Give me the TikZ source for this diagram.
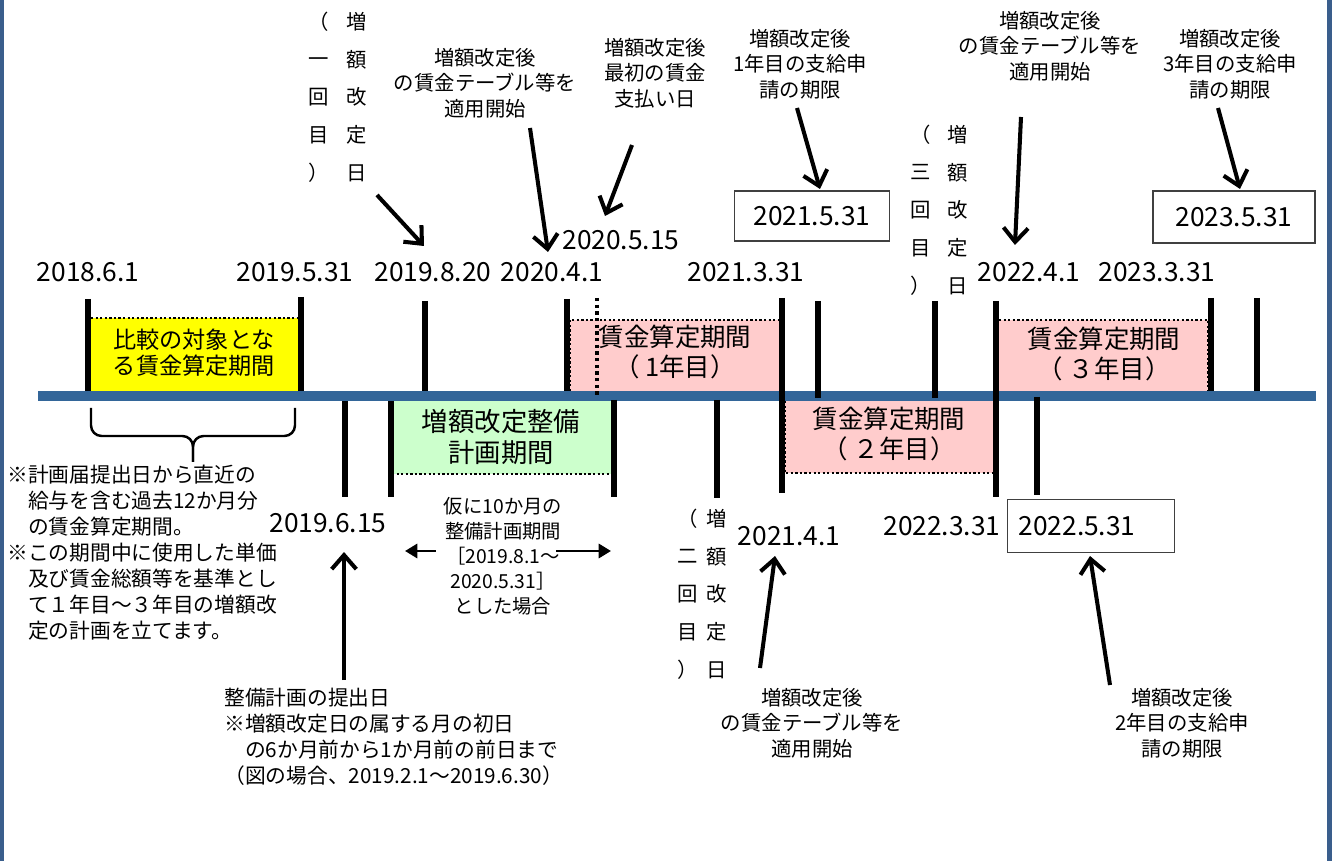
\documentclass[tikz,border=0pt]{standalone}
\usepackage{fontspec}
\setmainfont{Noto Sans CJK JP}
\usetikzlibrary{arrows.meta}

\definecolor{tlblue}{HTML}{336699}
\definecolor{frblue}{HTML}{3A5E8C}
\definecolor{ylw}{HTML}{FFFF00}
\definecolor{pnk}{HTML}{FFCCCC}
\definecolor{grn}{HTML}{CCFFCC}
\definecolor{boxgray}{HTML}{404040}

\tikzset{
  lbl/.style={align=center, inner sep=0pt, font=\fontsize{11.6}{14.5}\selectfont},
  note/.style={align=left, inner sep=0pt, anchor=west, font=\fontsize{11.8}{14.8}\selectfont},
  vcol/.style={align=center, inner sep=0pt, font=\fontsize{11.6}{21.5}\selectfont},
  date/.style={inner sep=0pt, font=\fontsize{15}{18}\selectfont},
  prd/.style={align=center, inner sep=0pt, font=\fontsize{14.5}{17}\selectfont},
  dbox/.style={draw=boxgray, line width=0.8pt, inner sep=0pt, font=\fontsize{15}{18}\selectfont},
  arr/.style={-{Straight Barb[length=8pt,width=14pt]}, line width=2.3pt},
  sarr/.style={-{Triangle[length=7pt,width=8pt]}, line width=1.7pt},
  tick/.style={line width=3.4pt},
  dotl/.style={line width=1.3pt, dash pattern=on 1.3pt off 1.3pt},
}

\begin{document}
\begin{tikzpicture}[x=0.02cm, y=-0.02cm]
		\useasboundingbox (0,0) rectangle (1336,861);
		\fill[frblue] (0,0) rectangle (4,861);
		\fill[frblue] (1327,0) rectangle (1332,861);

		% periods
		\fill[ylw] (91,318) rectangle (298,391);
		\fill[pnk] (570,320) rectangle (779,391);
		\fill[grn] (392,400) rectangle (612,474);
		\fill[pnk] (785,401) rectangle (993,473);
		\fill[pnk] (999,320) rectangle (1208,391);
		\draw[dotl] (91,318) -- (298,318);
		\draw[dotl] (570,391) -- (570,320) -- (779,320);
		\draw[dotl] (392,474) -- (612,474) -- (612,400);
		\draw[dotl] (785,401) -- (785,473) -- (993,473);
		\draw[dotl] (999,320) -- (1208,320) -- (1208,391);

		\path (194,353)  node[prd, font=\fontsize{13.2}{14.8}\selectfont] (pcmp) {比較の対象とな\\る賃金算定期間}
		      (675,352)  node[prd] (py1) {賃金算定期間\\（ 1年目）}
		      (501,437)  node[prd, font=\fontsize{15}{17.6}\selectfont] (pgrn) {増額改定整備\\計画期間}
		      (889,434)  node[prd] (py2) {賃金算定期間\\（ ２年目）}
		      (1104,354) node[prd] (py3) {賃金算定期間\\（ ３年目）};

		% time line
		\draw[tlblue, line width=5.7pt] (38,396) -- (1316,396);
		\foreach \x/\a/\b in {88/299/391, 301/297/391, 425/301/391, 567/299/391,
		                      782/298/493, 818/301/398, 935/301/398, 996/301/497,
		                      1211/298/391, 1257/298/391, 345/401/497, 391/401/497,
		                      614/400/497, 717/400/498, 1037/397/495}
		  \draw[tick] (\x,\a) -- (\x,\b);
		\draw[line width=1.9pt, dash pattern=on 1.9pt off 1.9pt] (597,298) -- (597,396);

		% dates
		\path (88,272)   node[date] (d1806) {2018.6.1}
		      (295,272)  node[date] (d1905) {2019.5.31}
		      (433,272)  node[date] (d1908) {2019.8.20}
		      (552,272)  node[date] (d2004) {2020.4.1}
		      (621,240)  node[date] (d2005) {2020.5.15}
		      (746,272)  node[date] (d2103) {2021.3.31}
		      (1029,272) node[date] (d2204) {2022.4.1}
		      (1157,272) node[date] (d2303) {2023.3.31}
		      (328,523)  node[date] (d1906) {2019.6.15}
		      (789,536)  node[date] (d2104) {2021.4.1}
		      (942,526)  node[date] (d2203) {2022.3.31};
		\path (812,216)  node[dbox, minimum width=3.1cm, minimum height=1cm] (b2105) {2021.5.31}
		      (1234,217) node[dbox, minimum width=3.24cm, minimum height=1.04cm] (b2305) {2023.5.31}
		      (1091,526) node[dbox, minimum width=3.34cm, minimum height=1.06cm, text width=2.9cm, align=left] (b2205) {2022.5.31};

		% labels
		\path (485,83)   node[lbl] (upA) {増額改定後\\の賃金テーブル等を\\適用開始}
		      (655,73)   node[lbl] (upB) {増額改定後\\最初の賃金\\支払い日}
		      (800,64)   node[lbl] (upC) {増額改定後\\1年目の支給申\\請の期限}
		      (1050,46)  node[lbl] (upD) {増額改定後\\の賃金テーブル等を\\適用開始}
		      (1230,64)  node[lbl] (upE) {増額改定後\\3年目の支給申\\請の期限}
		      (812,723)  node[lbl] (loA) {増額改定後\\の賃金テーブル等を\\適用開始}
		      (1182,723) node[lbl] (loB) {増額改定後\\2年目の支給申\\請の期限}
		      (503,556)  node[lbl, font=\fontsize{11}{14.3}\selectfont] (midT) {仮に10か月の\\整備計画期間\\［2019.8.1～\\2020.5.31］\\とした場合};
		\path (7,553)    node[note] (noteL) {※計画届提出日から直近の\\　給与を含む過去12か月分\\　の賃金算定期間。\\※この期間中に使用した単価\\　及び賃金総額等を基準とし\\　て１年目～３年目の増額改\\　定の計画を立てます。}
		      (224,737)  node[note] (noteB) {整備計画の提出日\\※増額改定日の属する月の初日\\　の6か月前から1か月前の前日まで\\（図の場合、2019.2.1～2019.6.30）};

		% revision days
		\path (357,97)  node[vcol] (r1a) {増\\額\\改\\定\\日}
		      (319,97)  node[vcol] (r1b) {（\\一\\回\\目\\）}
		      (717,594) node[vcol] (r2a) {増\\額\\改\\定\\日}
		      (688,594) node[vcol] (r2b) {（\\二\\回\\目\\）}
		      (958,210) node[vcol] (r3a) {増\\額\\改\\定\\日}
		      (921,210) node[vcol] (r3b) {（\\三\\回\\目\\）};

		% brace
		\draw[line width=1.4pt, rounded corners=6pt] (91,408) -- (91,436) -- (193,436) -- (193,462);
		\draw[line width=1.4pt, rounded corners=6pt] (295,408) -- (295,436) -- (193,436) -- (193,462);

		% arrows
		\coordinate (t1) at (377,195);  \coordinate (h1) at (424,246);
		\coordinate (t2) at (530,128);  \coordinate (h2) at (548,252);
		\coordinate (t3) at (632,145);  \coordinate (h3) at (605,216);
		\coordinate (t4) at (797,108);  \coordinate (h4) at (820,189);
		\coordinate (t5) at (1021,117); \coordinate (h5) at (1015,245);
		\coordinate (t6) at (1218,108); \coordinate (h6) at (1240,189);
		\coordinate (t7) at (344,680);  \coordinate (h7) at (344,552);
		\coordinate (t8) at (760,668);  \coordinate (h8) at (775,556);
		\coordinate (t9) at (1110,685); \coordinate (h9) at (1090,556);
		\foreach \i in {1,...,9}
		  \draw[arr] (t\i) -- (h\i);
		\coordinate (sl) at (405,551);
		\coordinate (sr) at (611,551);
		\draw[sarr] (midT.west |- sl) ++(-8,0) -- (sl);
		\draw[sarr] (midT.east |- sr) ++(-6,0) -- (sr);
	\end{tikzpicture}
\end{document}
